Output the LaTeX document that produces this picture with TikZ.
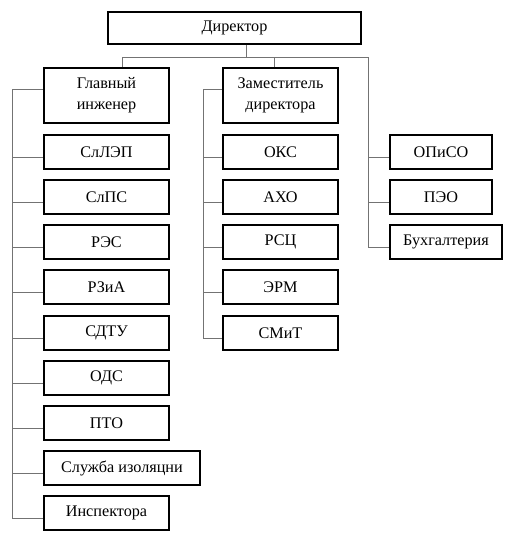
\documentclass[tikz,border=0pt]{standalone}
\usepackage{fontspec}
\setmainfont{Liberation Serif}
\begin{document}
\begin{tikzpicture}[x=1pt,y=-1pt,
  box/.style={draw=black,line width=1.3pt,minimum height=34pt,inner sep=0pt,
    font=\fontsize{16.2}{21}\selectfont,align=center},
  conn/.style={draw=black!55,line width=1pt}]
\useasboundingbox (0,0) rectangle (506,533);
% top
\node[box,minimum width=253pt,minimum height=32pt] (dir) at (234.5,28) {Директор};
\node[box,minimum width=125pt,minimum height=55pt] (gi) at (106.5,95.5) {Главный\\инженер};
\node[box,minimum width=115pt,minimum height=55pt] (zd) at (280.5,95.5) {Заместитель\\директора};
% left column
\foreach \n/\t/\y in {a1/СлЛЭП/152,a2/СлПС/197,a3/РЭС/242,a4/РЗиА/287,a5/СДТУ/333,a6/ОДС/378,a7/ПТО/423,a9/Инспектора/513}
  \node[box,minimum width=125pt] (\n) at (106.5,\y) {\t};
\node[box,minimum width=156pt] (a8) at (122,468) {Служба изоляцни};
% middle column
\foreach \n/\t/\y in {b1/ОКС/152,b2/АХО/197,b3/РСЦ/242,b4/ЭРМ/287,b5/СМиТ/333}
  \node[box,minimum width=115pt] (\n) at (280.5,\y) {\t};
% right column
\node[box,minimum width=102pt] (c1) at (441,152) {ОПиСО};
\node[box,minimum width=102pt] (c2) at (441,197) {ПЭО};
\node[box,minimum width=112pt] (c3) at (446,242) {Бухгалтерия};
% bus
\coordinate (busL) at (122,57);
\coordinate (busM) at (246,57);
\coordinate (busZ) at (274,57);
\coordinate (busR) at (368,57);
\coordinate (tL) at (12,89);
\coordinate (tZ) at (203,89);
\draw[conn] (dir.south -| busM) -- (busM);
\draw[conn] (busL) -- (busR);
\draw[conn] (busL) -- (busL |- gi.north);
\draw[conn] (busZ) -- (busZ |- zd.north);
\draw[conn] (busR) |- ([yshift=-5pt]c3.west);
\foreach \n in {c1,c2}{
  \coordinate (p) at ([yshift=-5pt]\n.west);
  \draw[conn] (busR |- p) -- (p);}
% left trunk
\draw[conn] (tL) -- (tL -| gi.west);
\draw[conn] (tL) |- ([yshift=-5pt]a9.west);
\foreach \n in {a1,a2,a3,a4,a5,a6,a7,a8}{
  \coordinate (p) at ([yshift=-5pt]\n.west);
  \draw[conn] (tL |- p) -- (p);}
% middle trunk
\draw[conn] (tZ) -- (tZ -| zd.west);
\draw[conn] (tZ) |- ([yshift=-5pt]b5.west);
\foreach \n in {b1,b2,b3,b4}{
  \coordinate (p) at ([yshift=-5pt]\n.west);
  \draw[conn] (tZ |- p) -- (p);}
\end{tikzpicture}
\end{document}
